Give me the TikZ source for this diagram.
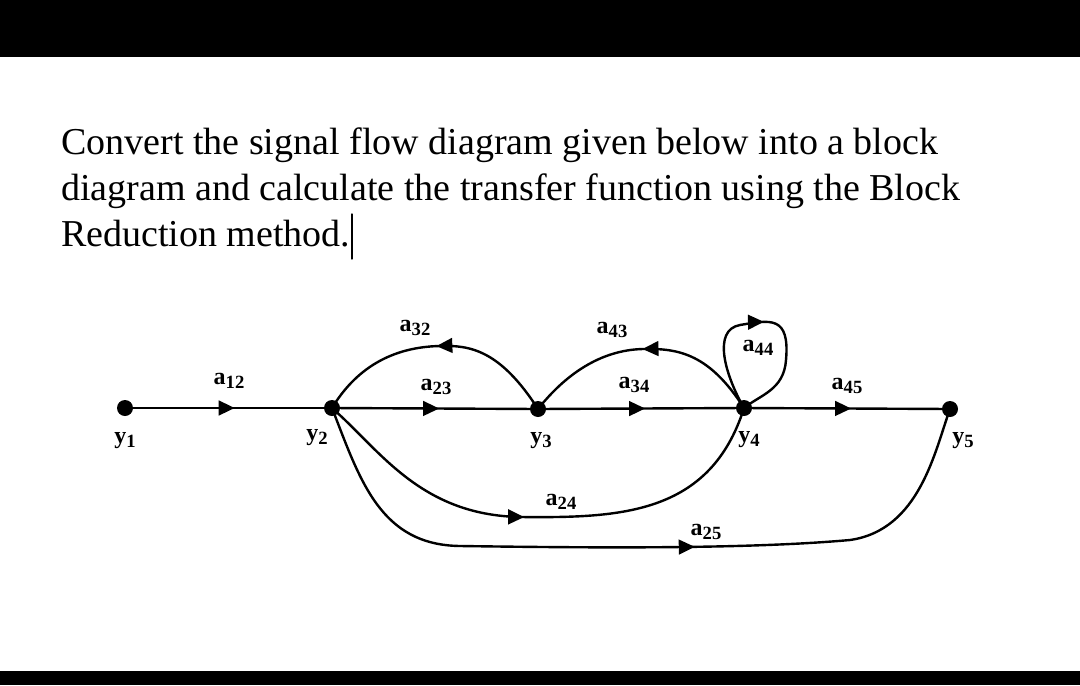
\documentclass[tikz,border=0pt]{standalone}
\usepackage{fontspec}
\setmainfont{Liberation Serif}
\usetikzlibrary{arrows.meta,decorations.markings}
\newcommand{\idx}[1]{\raisebox{-0.3ex}{\fontsize{14}{14}\selectfont #1}}
\tikzset{
  sig/.style={line width=1.8pt},
  midarrow/.style={postaction={decorate},decoration={markings,
      mark=at position #1 with {\arrow{Triangle[length=12pt,width=11pt]}}}},
  dot/.style={circle,fill=black,inner sep=0pt,minimum size=12pt},
  gain/.style={font=\bfseries\fontsize{18}{19}\selectfont},
  lab/.style={font=\bfseries\fontsize{18}{19}\selectfont}
}
\begin{document}
\begin{tikzpicture}[x=0.75pt,y=-0.75pt,line join=round,line cap=round]
  \useasboundingbox (0,0) rectangle (1080,685);
  \fill[black] (0,0) rectangle (1080,57);
  \fill[black] (0,671) rectangle (1080,685);
  % question text
  \node[anchor=north west,inner sep=0pt,align=left,
        font=\fontsize{28.5}{34.5}\selectfont] (txt) at (61,127)
    {Convert the signal flow diagram given below into a block\\
     diagram and calculate the transfer function using the Block\\
     Reduction method.};
  \draw[line width=1pt] (352,214) -- (352,259);
  % nodes
  \node[dot] (y1) at (125,408) {};
  \node[dot] (y2) at (332,408) {};
  \node[dot] (y3) at (538,409) {};
  \node[dot] (y4) at (744,408) {};
  \node[dot] (y5) at (950,409) {};
  \node[lab] at (125,441) {y\idx{1}};
  \node[lab] at (317,438) {y\idx{2}};
  \node[lab] at (541,441) {y\idx{3}};
  \node[lab] at (749,440) {y\idx{4}};
  \node[lab] at (963,441) {y\idx{5}};
  % forward branches
  \draw[sig,midarrow=0.53] (y1.center) -- (y2.center);
  \draw[sig,midarrow=0.52] (y2.center) -- (y3.center);
  \draw[sig,midarrow=0.52] (y3.center) -- (y4.center);
  \draw[sig,midarrow=0.52] (y4.center) -- (y5.center);
  \node[gain] at (229,381) {a\idx{12}};
  \node[gain] at (436,387) {a\idx{23}};
  \node[gain] at (634,385) {a\idx{34}};
  \node[gain] at (847,386) {a\idx{45}};
  % feedback branches
  \draw[sig,midarrow=0.5] (y3.center) .. controls (500,350) and (470,345) .. (440,346)
      .. controls (390,347) and (355,370) .. (y2.center);
  \draw[sig,midarrow=0.5] (y4.center) .. controls (710,355) and (680,348) .. (643,349)
      .. controls (600,350) and (565,375) .. (y3.center);
  \node[gain] at (415,328) {a\idx{32}};
  \node[gain] at (612,330) {a\idx{43}};
  % self loop
  \draw[sig,midarrow=0.5] (y4.center) .. controls (725,375) and (712,330) .. (740,325)
      .. controls (770,320) and (790,315) .. (786,360)
      .. controls (784,390) and (760,395) .. (y4.center);
  \node[gain] at (758,348) {a\idx{44}};
  % feed-forward branches
  \draw[sig,midarrow=0.46] (y2.center) .. controls (380,450) and (420,515) .. (520,517)
      .. controls (620,518) and (710,515) .. (y4.center);
  \draw[sig,midarrow=0.57] (y2.center) .. controls (360,480) and (380,545) .. (460,546)
      .. controls (600,548) and (750,549) .. (850,540)
      .. controls (920,530) and (935,450) .. (y5.center);
  \node[gain] at (561,502) {a\idx{24}};
  \node[gain] at (706,532) {a\idx{25}};
\end{tikzpicture}
\end{document}
